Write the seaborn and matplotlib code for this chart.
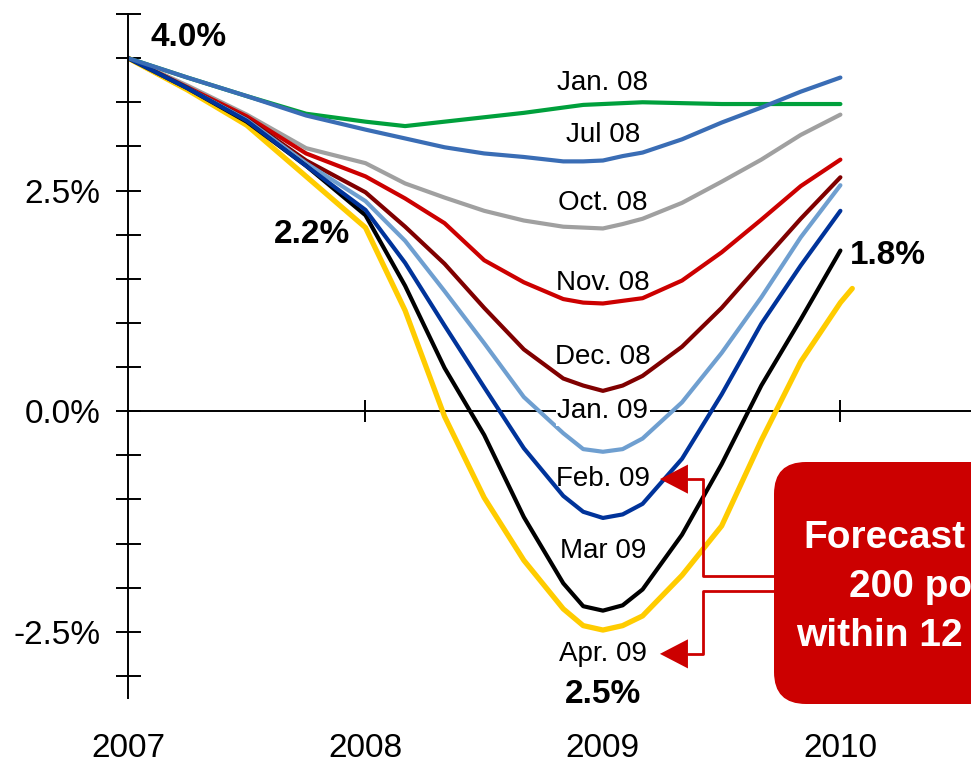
import numpy as np
import matplotlib
matplotlib.use('Agg')
import matplotlib.pyplot as plt
import seaborn as sns
from matplotlib.patches import FancyBboxPatch, Polygon


# forecast horizon (years); denser around the 2009 trough
years = [2007.0, 2007.25, 2007.5, 2007.75, 2008.0, 2008.167, 2008.333, 2008.5,
         2008.667, 2008.833, 2008.917, 2009.0, 2009.083, 2009.167, 2009.333,
         2009.5, 2009.667, 2009.833, 2010.0]
years_apr = years + [2010.05]

# forecast paths (%), one list per forecast vintage
jan08 = [4.00, 3.78, 3.57, 3.37, 3.28, 3.23, 3.28, 3.33, 3.38, 3.44, 3.47,
         3.48, 3.49, 3.50, 3.49, 3.48, 3.48, 3.48, 3.48]
jul08 = [4.00, 3.78, 3.57, 3.35, 3.19, 3.09, 2.99, 2.92, 2.88, 2.83, 2.83,
         2.84, 2.89, 2.93, 3.08, 3.27, 3.44, 3.62, 3.78]
oct08 = [4.00, 3.69, 3.36, 2.98, 2.81, 2.58, 2.42, 2.27, 2.16, 2.09, 2.08,
         2.07, 2.12, 2.18, 2.36, 2.60, 2.85, 3.13, 3.36]
nov08 = [4.00, 3.67, 3.34, 2.92, 2.66, 2.41, 2.13, 1.71, 1.46, 1.27, 1.23,
         1.22, 1.25, 1.28, 1.48, 1.80, 2.17, 2.55, 2.85]
dec08 = [4.00, 3.66, 3.31, 2.84, 2.48, 2.09, 1.67, 1.17, 0.70, 0.37, 0.29,
         0.23, 0.29, 0.40, 0.73, 1.17, 1.68, 2.18, 2.65]
jan09 = [4.00, 3.66, 3.30, 2.81, 2.38, 1.93, 1.36, 0.77, 0.16, -0.25, -0.43,
         -0.46, -0.43, -0.31, 0.10, 0.66, 1.29, 1.97, 2.56]
feb09 = [4.00, 3.66, 3.29, 2.78, 2.28, 1.68, 0.97, 0.27, -0.42, -0.96, -1.14,
         -1.21, -1.17, -1.05, -0.54, 0.19, 0.99, 1.65, 2.27]
mar09 = [4.00, 3.66, 3.28, 2.78, 2.22, 1.42, 0.49, -0.27, -1.20, -1.95, -2.21,
         -2.26, -2.20, -2.02, -1.40, -0.60, 0.29, 1.04, 1.82]
apr09 = [4.00, 3.64, 3.24, 2.66, 2.08, 1.14, -0.06, -0.98, -1.69, -2.24, -2.43,
         -2.48, -2.43, -2.32, -1.86, -1.30, -0.33, 0.56, 1.23, 1.39]

curve_labels = ['Jan. 08', 'Jul 08', 'Oct. 08', 'Nov. 08', 'Dec. 08',
                'Jan. 09', 'Feb. 09', 'Mar 09', 'Apr. 09']
curve_label_y = [3.72, 3.13, 2.36, 1.45, 0.61, 0.0, -0.77, -1.59, -2.75]

year_ticks = [2007, 2008, 2009, 2010]
pct_ticks = [2.5, 0.0, -2.5]
pct_labels = ['2.5%', '0.0%', '-2.5%']

# drawing order matters a little where the paths overlap at the start
series = [
    (jan08, '#00A03C', 3.0),
    (oct08, '#A0A0A0', 3.0),
    (nov08, '#CC0000', 3.0),
    (dec08, '#800000', 3.0),
    (jan09, '#6F9FD0', 3.0),
    (apr09, '#FFCC00', 3.8),
    (mar09, '#000000', 3.0),
    (feb09, '#00339A', 3.0),
    (jul08, '#3A6DB5', 3.0),
]

sns.set_style('white')
plt.rcParams['font.family'] = ['Liberation Sans', 'DejaVu Sans']
plt.rcParams.update({'text.color': 'black', 'xtick.color': 'black',
                     'ytick.color': 'black', 'axes.edgecolor': 'black'})

fig = plt.figure(figsize=(9.71, 7.63), dpi=100)
ax = fig.add_axes([128 / 971, 1 - 698 / 763, 1 - 128 / 971, (698 - 14) / 763])

for vals, color, lw in series:
    xs = years_apr if len(vals) == len(years_apr) else years
    sns.lineplot(x=xs, y=vals, color=color, linewidth=lw, ax=ax, legend=False)

ax.set_xlim(2007, 2010.55)
ax.set_ylim(-3.25, 4.5)

# y axis: small cross ticks every half point, three labels
yt = np.arange(-3.0, 4.51, 0.5)
ax.set_yticks(yt)
ax.set_yticklabels([pct_labels[pct_ticks.index(v)] if v in pct_ticks else ''
                    for v in np.round(yt, 2)])
ax.tick_params(axis='y', left=True, direction='inout', length=18, width=1.4,
               pad=11, labelsize=24)

ax.set_xticks(year_ticks)
ax.set_xticklabels([str(y) for y in year_ticks])
ax.tick_params(axis='x', bottom=True, length=0, pad=25, labelsize=24)

for s in ['top', 'right', 'bottom']:
    ax.spines[s].set_visible(False)
ax.spines['left'].set_linewidth(1.4)

# zero line with year ticks
sec = ax.secondary_xaxis(0, transform=ax.transData)
sec.set_xticks(year_ticks[1:])
sec.tick_params(axis='x', bottom=True, top=False, direction='inout', length=16,
                width=1.4, labelbottom=False, labeltop=False)
for s in sec.spines.values():
    s.set_linewidth(1.4)

for txt, yv in zip(curve_labels, curve_label_y):
    kw = {}
    if txt == 'Jan. 09':
        kw['bbox'] = dict(fc='white', ec='none', pad=1)
    ax.text(2009.0, yv, txt, ha='center', va='center', fontsize=20, zorder=6, **kw)

bold = dict(fontsize=24, fontweight='bold', va='center', zorder=6)
ax.text(2007.093, 4.23, '4.0%', ha='left', **bold)
ax.text(2007.775, 2.0, '2.2%', ha='center', **bold)
ax.text(2010.04, 1.76, '1.8%', ha='left', **bold)
ax.text(2009.0, -3.21, '2.5%', ha='center', **bold)

# red call-out box (figure inches) with bracket arrows (data coords)
red = '#CC0000'
box = FancyBboxPatch((7.74, 0.59), 3.0, 2.42,
                     boxstyle='round,pad=0,rounding_size=0.32',
                     transform=fig.dpi_scale_trans, fc=red, ec='none')
fig.add_artist(box)
box_txt = dict(transform=fig.dpi_scale_trans, color='white', fontsize=28,
               fontweight='bold', ha='left', va='baseline')
fig.text(8.03, 2.15, 'Forecast', **box_txt)
fig.text(8.49, 1.66, '200 po', **box_txt)
fig.text(7.96, 1.17, 'within 12', **box_txt)

x_tip, x_base, x_bar, x_box = 2009.24, 2009.358, 2009.421, 2009.72
for y_lab, y_box in [(-0.77, -1.866), (-2.75, -2.036)]:
    ax.plot([x_box, x_bar, x_bar, x_base], [y_box, y_box, y_lab, y_lab],
            color=red, lw=2.0, clip_on=False, zorder=7)
    ax.add_patch(Polygon([[x_tip, y_lab], [x_base, y_lab + 0.165],
                          [x_base, y_lab - 0.165]], closed=True,
                         fc=red, ec='none', clip_on=False, zorder=7))

ax.set_xlim(2007, 2010.55)
ax.set_ylim(-3.25, 4.5)

fig.savefig('out.png', dpi=100)
